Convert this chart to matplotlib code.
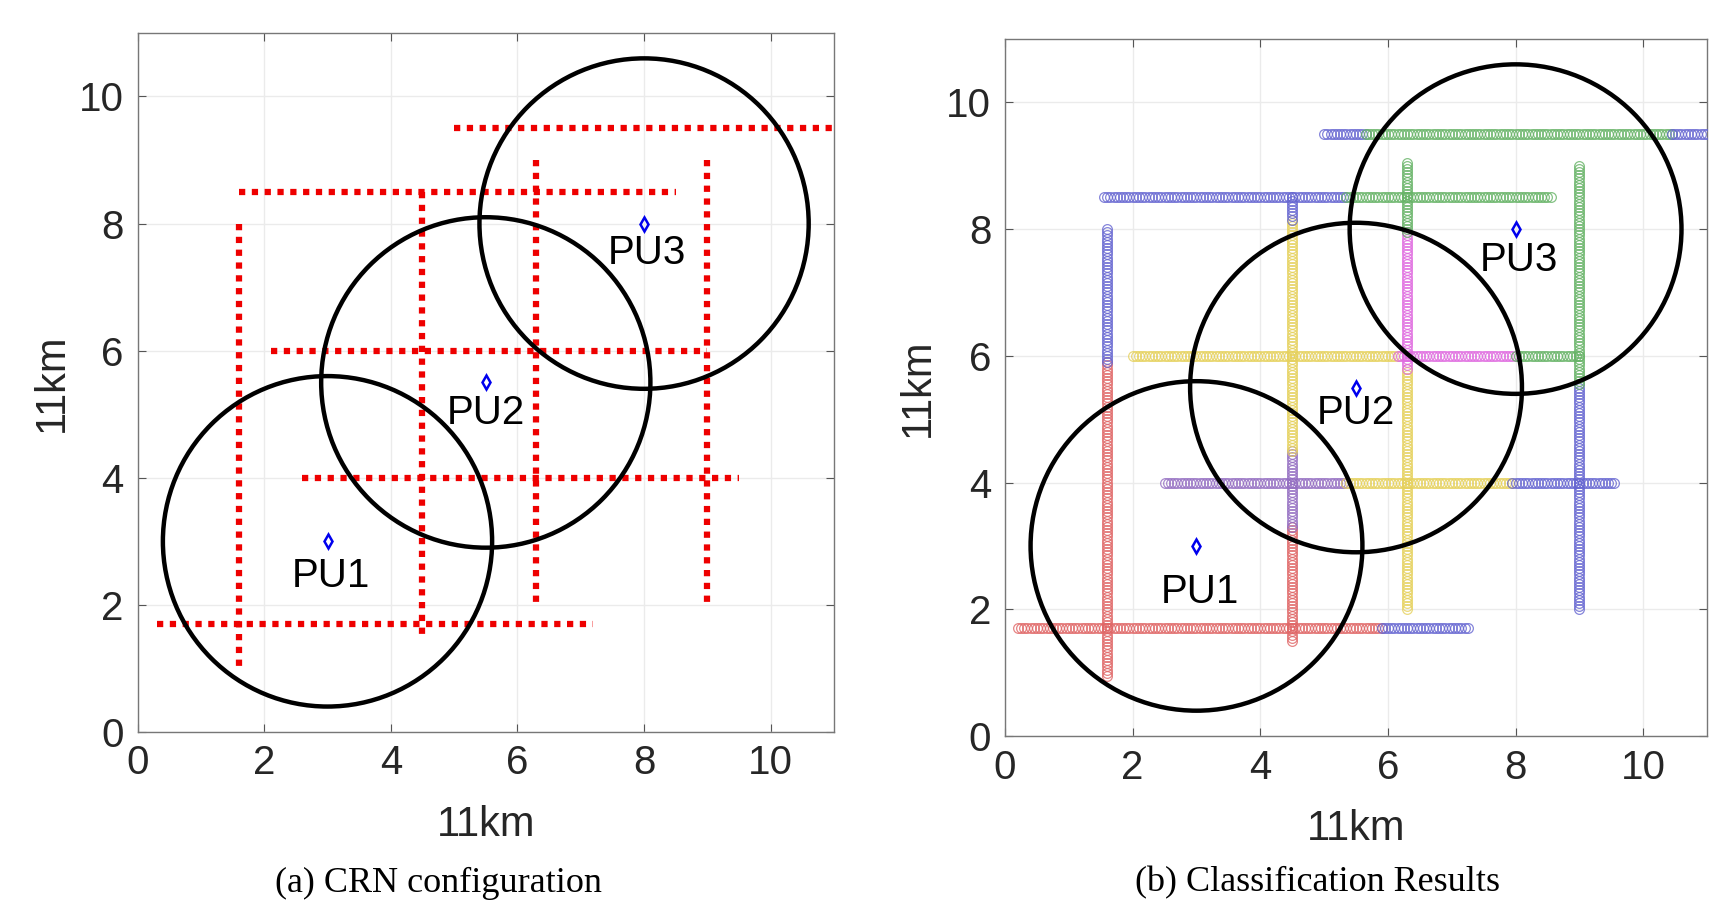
import matplotlib
matplotlib.use("Agg")
import matplotlib.pyplot as plt
import numpy as np
from matplotlib.patches import Circle

# ---- data -------------------------------------------------------------
pu_names = ["PU1", "PU2", "PU3"]
pu_x = [3.0, 5.5, 8.0]
pu_y = [3.0, 5.5, 8.0]
pu_radius = 2.6

# label positions (a) / (b)
lab_a_x = [3.05, 5.5, 8.05]
lab_a_y = [2.45, 5.02, 7.53]
lab_b_x = [3.05, 5.5, 8.05]
lab_b_y = [2.27, 5.1, 7.52]

# CRN paths (a): horizontal then vertical
h_y = [9.5, 8.5, 6.0, 4.0, 1.7]
h_x0 = [5.0, 1.6, 2.1, 2.6, 0.3]
h_x1 = [11.0, 8.5, 9.0, 9.5, 7.2]
v_x = [1.6, 4.5, 6.3, 9.0]
v_y0 = [1.0, 1.5, 2.0, 2.0]
v_y1 = [8.0, 8.5, 9.0, 9.0]

# classification results (b): orientation, fixed coord, start, end, class
seg_orient = ["h", "h", "h",
              "h", "h",
              "h", "h", "h",
              "h", "h", "h",
              "h", "h",
              "v", "v",
              "v", "v", "v", "v",
              "v", "v", "v",
              "v", "v"]
seg_fixed = [9.5, 9.5, 9.5,
             8.5, 8.5,
             6.0, 6.0, 6.0,
             4.0, 4.0, 4.0,
             1.7, 1.7,
             1.6, 1.6,
             4.5, 4.5, 4.5, 4.5,
             6.3, 6.3, 6.3,
             9.0, 9.0]
seg_start = [5.0, 5.65, 10.45,
             1.55, 5.35,
             2.0, 6.15, 8.0,
             2.5, 5.35, 7.95,
             0.2, 5.9,
             0.95, 5.9,
             1.5, 3.3, 4.5, 8.15,
             2.0, 5.8, 7.95,
             2.0, 5.55]
seg_end = [5.65, 10.45, 11.0,
           5.35, 8.55,
           6.15, 8.0, 9.0,
           5.35, 7.95, 9.55,
           5.9, 7.25,
           5.9, 8.0,
           3.3, 4.5, 8.15, 8.5,
           5.8, 7.95, 9.05,
           5.55, 9.0]
seg_class = ["blue", "green", "blue",
             "blue", "green",
             "yellow", "magenta", "green",
             "purple", "yellow", "blue",
             "red", "blue",
             "red", "blue",
             "red", "purple", "yellow", "blue",
             "yellow", "magenta", "green",
             "blue", "green"]

CLASS_COL = {"blue": (0.4, 0.4, 0.82), "green": (0.4, 0.7, 0.4),
             "yellow": (0.9, 0.82, 0.36), "magenta": (0.88, 0.42, 0.88),
             "purple": (0.58, 0.43, 0.76), "red": (0.88, 0.4, 0.4)}

ticks = [0, 2, 4, 6, 8, 10]
TXT = "#262626"
FONT = ["Liberation Sans", "DejaVu Sans"]
plt.rcParams["font.family"] = FONT


def base_axes(ax):
    ax.set_xlim(0, 11)
    ax.set_ylim(0, 11)
    ax.set_xticks(ticks)
    ax.set_yticks(ticks)
    ax.tick_params(direction="in", length=6, width=0.8, colors="#555555",
                   labelcolor=TXT, labelsize=29, top=True, right=True)
    ax.tick_params(axis="x", pad=9)
    ax.tick_params(axis="y", pad=10)
    for s in ax.spines.values():
        s.set_color("#777777")
        s.set_linewidth(1.0)
    ax.grid(True, color="#ebebeb", linewidth=1.0)
    ax.set_axisbelow(True)
    ax.set_xlabel("11km", fontsize=30, color=TXT)
    ax.set_ylabel("11km", fontsize=30, color=TXT)
    ax.xaxis.set_label_coords(0.5, -0.105)
    ax.yaxis.set_label_coords(-0.095, 0.5)
    for cx, cy in zip(pu_x, pu_y):
        ax.add_patch(Circle((cx, cy), pu_radius, fill=False, ec="black",
                            lw=3.2, zorder=5))
    ax.plot(pu_x, pu_y, "d", ms=7, mfc="none", mec="#0000ee", mew=1.8,
            zorder=6)


fig = plt.figure(figsize=(17.26, 9.05), dpi=100)
ax1 = fig.add_axes([0.0797, 0.1912, 0.4035, 0.7724])
ax2 = fig.add_axes([0.5823, 0.1867, 0.4067, 0.7702])

# ---- (a) CRN configuration ----
base_axes(ax1)
for y, x0, x1 in zip(h_y, h_x0, h_x1):
    ax1.plot([x0, x1], [y, y], color="#ee0000", lw=4.5,
             linestyle=(0, (1, 1.05)), dash_capstyle="butt", zorder=3)
for x, y0, y1 in zip(v_x, v_y0, v_y1):
    ax1.plot([x, x], [y1, y0], color="#ee0000", lw=4.5,
             linestyle=(0, (1, 1.05)), dash_capstyle="butt", zorder=3)
for name, x, y in zip(pu_names, lab_a_x, lab_a_y):
    ax1.text(x, y, name, fontsize=29, color="black", ha="center",
             va="center", zorder=7)

# ---- (b) Classification results ----
base_axes(ax2)
for o, f, a, b, c in zip(seg_orient, seg_fixed, seg_start, seg_end, seg_class):
    pts = np.arange(a, b + 1e-9, 0.05)
    xs, ys = (pts, np.full_like(pts, f)) if o == "h" else (np.full_like(pts, f), pts)
    ax2.plot(xs, ys, "o", ms=7, mfc="none", mec=CLASS_COL[c], mew=0.9,
             alpha=0.8, zorder=3)
for name, x, y in zip(pu_names, lab_b_x, lab_b_y):
    ax2.text(x, y, name, fontsize=29, color="black", ha="center",
             va="center", zorder=7)

serif = ["Liberation Serif", "DejaVu Serif"]
fig.text(0.2543, 0.006, "(a) CRN configuration", fontsize=26,
         family=serif, ha="center", va="bottom")
fig.text(0.7636, 0.006, "(b) Classification Results", fontsize=26,
         family=serif, ha="center", va="bottom")

fig.savefig("out.png", dpi=100, facecolor="white")
